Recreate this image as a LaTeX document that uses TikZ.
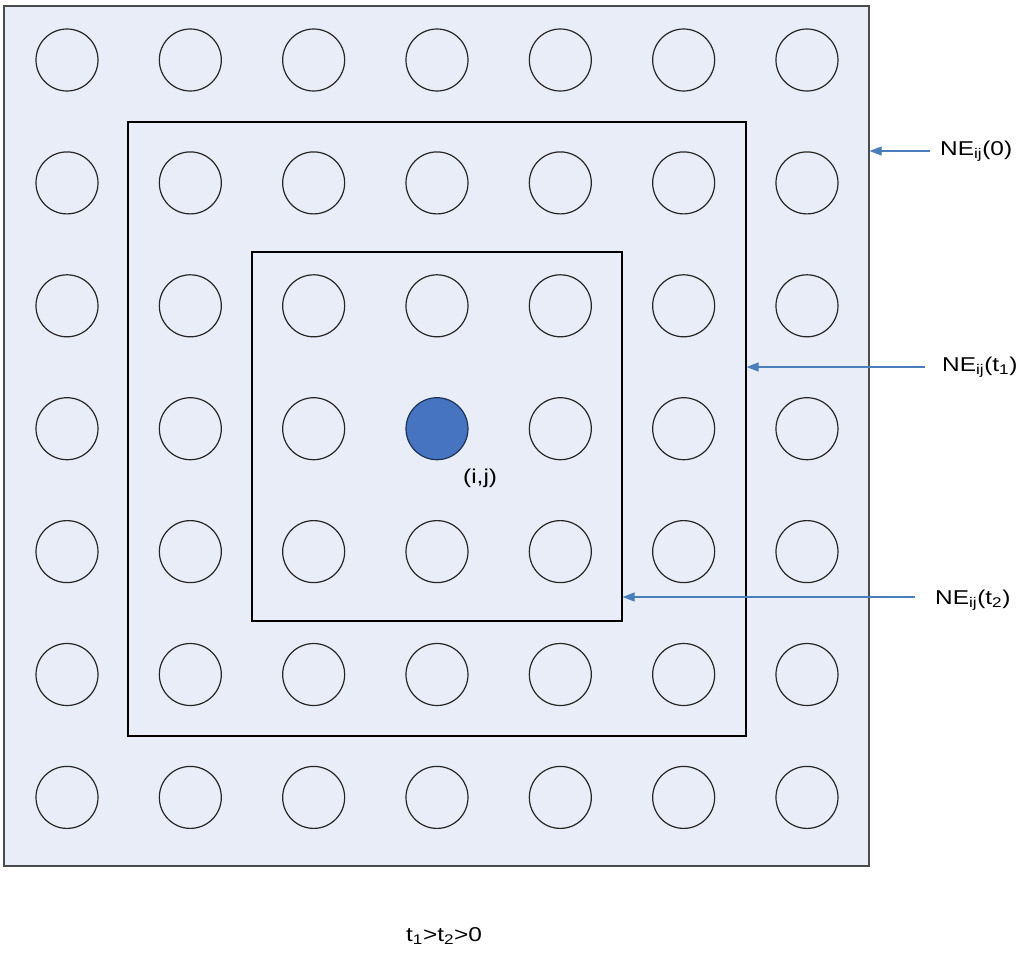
\documentclass[tikz,border=0pt]{standalone}
\usepackage{fontspec}
\setmainfont{Liberation Sans}
\usetikzlibrary{arrows.meta}
\definecolor{bgfill}{HTML}{E8EDF7}
\definecolor{ctrfill}{HTML}{4674C1}
\definecolor{ctrdraw}{HTML}{1E3557}
\definecolor{arrcol}{HTML}{4A7EBB}
\definecolor{outerdraw}{HTML}{4A4A4A}
\newcommand\widetxt[1]{\scalebox{1.22}[1]{#1}}
\tikzset{
  sq/.style={draw=black, line width=1.2pt, minimum width=#1, minimum height=#1, inner sep=0pt},
  dot/.style={circle, draw=black!85, line width=1.2pt, minimum size=62pt, inner sep=0pt},
  ctr/.style={dot, fill=ctrfill, draw=ctrdraw},
  lbl/.style={font=\fontsize{20}{24}\selectfont, inner sep=0pt},
  arr/.style={draw=arrcol, line width=1.2pt, -{Triangle[length=12pt,width=9pt]}}
}
\begin{document}
\begin{tikzpicture}[x=1pt,y=-1pt]
\useasboundingbox[fill=white] (0,0) rectangle (1024,961);
% squares
\node[sq=860pt, minimum width=865pt, fill=bgfill, draw=outerdraw] (outer) at (436.5,436) {};
\node[sq=614pt, minimum width=618pt] (middle) at (437,429) {};
\node[sq=369pt, minimum width=370pt] (inner) at (437,436.5) {};
% grid of circles
\foreach \i in {0,...,6}{\foreach \j in {0,...,6}{
  \ifnum\i\j=33 \def\st{ctr}\else\def\st{dot}\fi
  \node[\st] (c-\i-\j) at ({67+123.33*\i},{60+122.9*\j}) {};
}}
\node[lbl, anchor=west] (ij) at (463,478) {\widetxt{(i,j)}};
% labels
\node[lbl, anchor=west] (ne0) at (940,151) {\widetxt{NE\textsubscript{ij}(0)}};
\node[lbl, anchor=west] (ne1) at (942,367) {\widetxt{NE\textsubscript{ij}(t\textsubscript{1})}};
\node[lbl, anchor=west] (ne2) at (935,600) {\widetxt{NE\textsubscript{ij}(t\textsubscript{2})}};
\draw[arr, shorten <=10pt] (ne0.west) -- (ne0.west -| outer.east);
\draw[arr, shorten <=17pt] (ne1.west) -- (ne1.west -| middle.east);
\draw[arr, shorten <=20pt] ([yshift=3pt]ne2.west) -- ([yshift=3pt]ne2.west -| inner.east);
\node[lbl, anchor=west] (rel) at (406,936) {\widetxt{t\textsubscript{1}>t\textsubscript{2}>0}};
\end{tikzpicture}
\end{document}
